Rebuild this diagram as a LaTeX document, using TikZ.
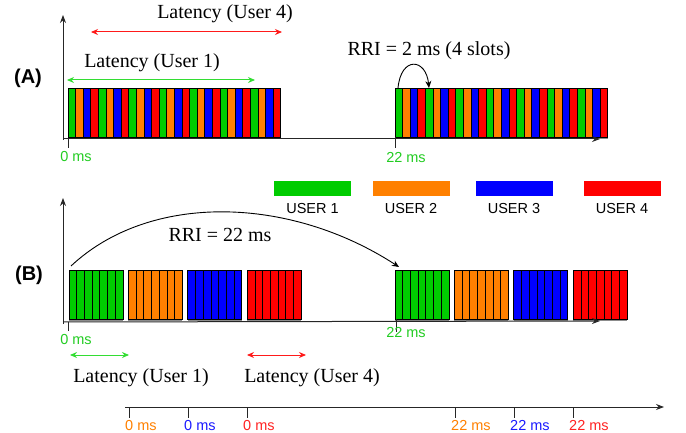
\documentclass[tikz,border=0pt]{standalone}
\usepackage{fontspec}
\setmainfont{Liberation Serif}
\setsansfont{Liberation Sans}
\usetikzlibrary{arrows.meta}
\definecolor{ugreen}{HTML}{00CC00}
\definecolor{uorange}{HTML}{FF8000}
\definecolor{ublue}{HTML}{0000FF}
\definecolor{ured}{HTML}{FF0000}
\definecolor{lgreen}{HTML}{33DD33}
\definecolor{lred}{HTML}{FF1A1A}
\definecolor{tgreen}{HTML}{22CC22}
\definecolor{tblue}{HTML}{1A1AFF}
\definecolor{tred}{HTML}{FF2222}
\begin{document}
\begin{tikzpicture}[x=1pt,y=-1pt,
  axis/.style={line width=1pt, draw=black!85, -{Stealth[length=8pt,width=6pt]}},
  tickline/.style={line width=0.8pt, draw=black!85},
  slot/.style={draw=black, line width=0.7pt},
  lat/.style={line width=1pt, {Stealth[length=7pt,width=6pt]}-{Stealth[length=7pt,width=6pt]}},
  serif/.style={font=\fontsize{20}{22}\selectfont, inner sep=0pt},
  mslab/.style={font=\sffamily\fontsize{14.5}{16}\selectfont, inner sep=0pt},
  panel/.style={font=\sffamily\bfseries\fontsize{20}{22}\selectfont, inner sep=0pt},
  legbox/.style={minimum width=77pt, minimum height=15pt, inner sep=0pt, draw=none},
  leglab/.style={font=\sffamily\fontsize{14.5}{16}\selectfont, inner sep=0pt},
  rriarrow/.style={line width=0.9pt, -{Stealth[length=7pt,width=6pt]}}
]
\useasboundingbox (0,0) rectangle (686,433);

% ---------------- Panel A ----------------
\foreach \s in {68,395}{
  \fill[black!45] (\s,137) rectangle ++(212.8,2);
  \foreach \g in {0,...,6}{
    \foreach \c [count=\k from 0] in {ugreen,uorange,ublue,ured}{
      \draw[slot, fill=\c] ({\s+(4*\g+\k)*7.6},88) rectangle ++(7.6,49);
    }}}
\coordinate (Aorig) at (63,140);
\coordinate (Atop) at (63,15);
\coordinate (Axs) at (63,139);
\coordinate (Aright) at (600,139);
\draw[axis] (Aorig) -- (Atop);
\draw[axis] (Axs) -- (Aright);
\coordinate (At0a) at (68,139); \coordinate (At0b) at (68,148);
\coordinate (At22a) at (395,137); \coordinate (At22b) at (395,148);
\draw[tickline] (At0a) -- (At0b);
\draw[tickline] (At22a) -- (At22b);
\node[mslab, text=tgreen] (a0ms) at (76,157) {0 ms};
\node[mslab, text=tgreen] (a22ms) at (406,158) {22 ms};
\node[panel] (labA) at (28,78) {(A)};

\coordinate (l4s) at (91,32); \coordinate (l4e) at (282,32);
\draw[lat, lred] (l4s) -- (l4e);
\node[serif] (latA4) at (225,14) {Latency (User 4)};
\coordinate (l1s) at (67,80); \coordinate (l1e) at (255,80);
\draw[lat, lgreen] (l1s) -- (l1e);
\node[serif] (latA1) at (152,63) {Latency (User 1)};

\coordinate (rriAs) at (398,88); \coordinate (rriAe) at (429,88);
\draw[rriarrow] (rriAs) .. controls (401,56) and (426,58) .. (rriAe);
\node[serif] (rriA) at (429,51) {RRI = 2 ms (4 slots)};

% ---------------- Legend ----------------
\node[legbox, fill=ugreen] (lg1) at (312.5,188.5) {};
\node[legbox, fill=uorange] (lg2) at (411.5,188.5) {};
\node[legbox, fill=ublue] (lg3) at (514.5,188.5) {};
\node[legbox, fill=ured] (lg4) at (622.5,188.5) {};
\node[leglab] (ll1) at (312.5,208.5) {USER 1};
\node[leglab] (ll2) at (411,208.5) {USER 2};
\node[leglab] (ll3) at (514,208.5) {USER 3};
\node[leglab] (ll4) at (622,208.5) {USER 4};

% ---------------- Panel B ----------------
\foreach \s in {69,395}{
  \foreach \c [count=\k from 0] in {ugreen,uorange,ublue,ured}{
    \fill[black!45] ({\s+\k*59.4},319) rectangle ++(53.9,2);
    \foreach \j in {0,...,6}{
      \draw[slot, fill=\c] ({\s+\k*59.4+\j*7.7},270) rectangle ++(7.7,49);
    }}}
\coordinate (Borig) at (63,324);
\coordinate (Btop) at (63,198);
\coordinate (Bxs) at (63,322);
\coordinate (Bright) at (600,321);
\draw[axis] (Borig) -- (Btop);
\draw[axis] (Bxs) -- (Bright);
\coordinate (Bt0a) at (68,322); \coordinate (Bt0b) at (68,331);
\coordinate (Bt22a) at (396,319); \coordinate (Bt22b) at (396,332);
\draw[tickline] (Bt0a) -- (Bt0b);
\draw[tickline] (Bt22a) -- (Bt22b);
\node[mslab, text=tgreen] (b0ms) at (76,340) {0 ms};
\node[mslab, text=tgreen] (b22ms) at (406,333) {22 ms};
\node[panel] (labB) at (29,275) {(B)};

\coordinate (rriBs) at (71,266); \coordinate (rriBe) at (399,267);
\draw[rriarrow] (rriBs) .. controls (150,192) and (290,196) .. (rriBe);
\node[serif] (rriB) at (220,235) {RRI = 22 ms};

\coordinate (bl1s) at (70,355); \coordinate (bl1e) at (129,355);
\draw[lat, lgreen] (bl1s) -- (bl1e);
\node[serif] (latB1) at (141,378) {Latency (User 1)};
\coordinate (bl4s) at (247,355); \coordinate (bl4e) at (306,355);
\draw[lat, lred] (bl4s) -- (bl4e);
\node[serif] (latB4) at (312,378) {Latency (User 4)};

% ---------------- Bottom axis ----------------
\coordinate (Cs) at (125,407); \coordinate (Ce) at (664,407);
\draw[axis] (Cs) -- (Ce);
\foreach \x/\col/\t [count=\n] in {129/uorange/0 ms,188/tblue/0 ms,247/tred/0 ms,455/uorange/22 ms,514/tblue/22 ms,573/tred/22 ms}{
  \coordinate (ct\n a) at (\x,407);
  \coordinate (ct\n b) at (\x,418);
  \draw[tickline] (ct\n a) -- (ct\n b);
  \node[mslab, text=\col, anchor=base west, text depth=0pt] (cl\n) at (\x-4,430) {\t};
}
\end{tikzpicture}
\end{document}
